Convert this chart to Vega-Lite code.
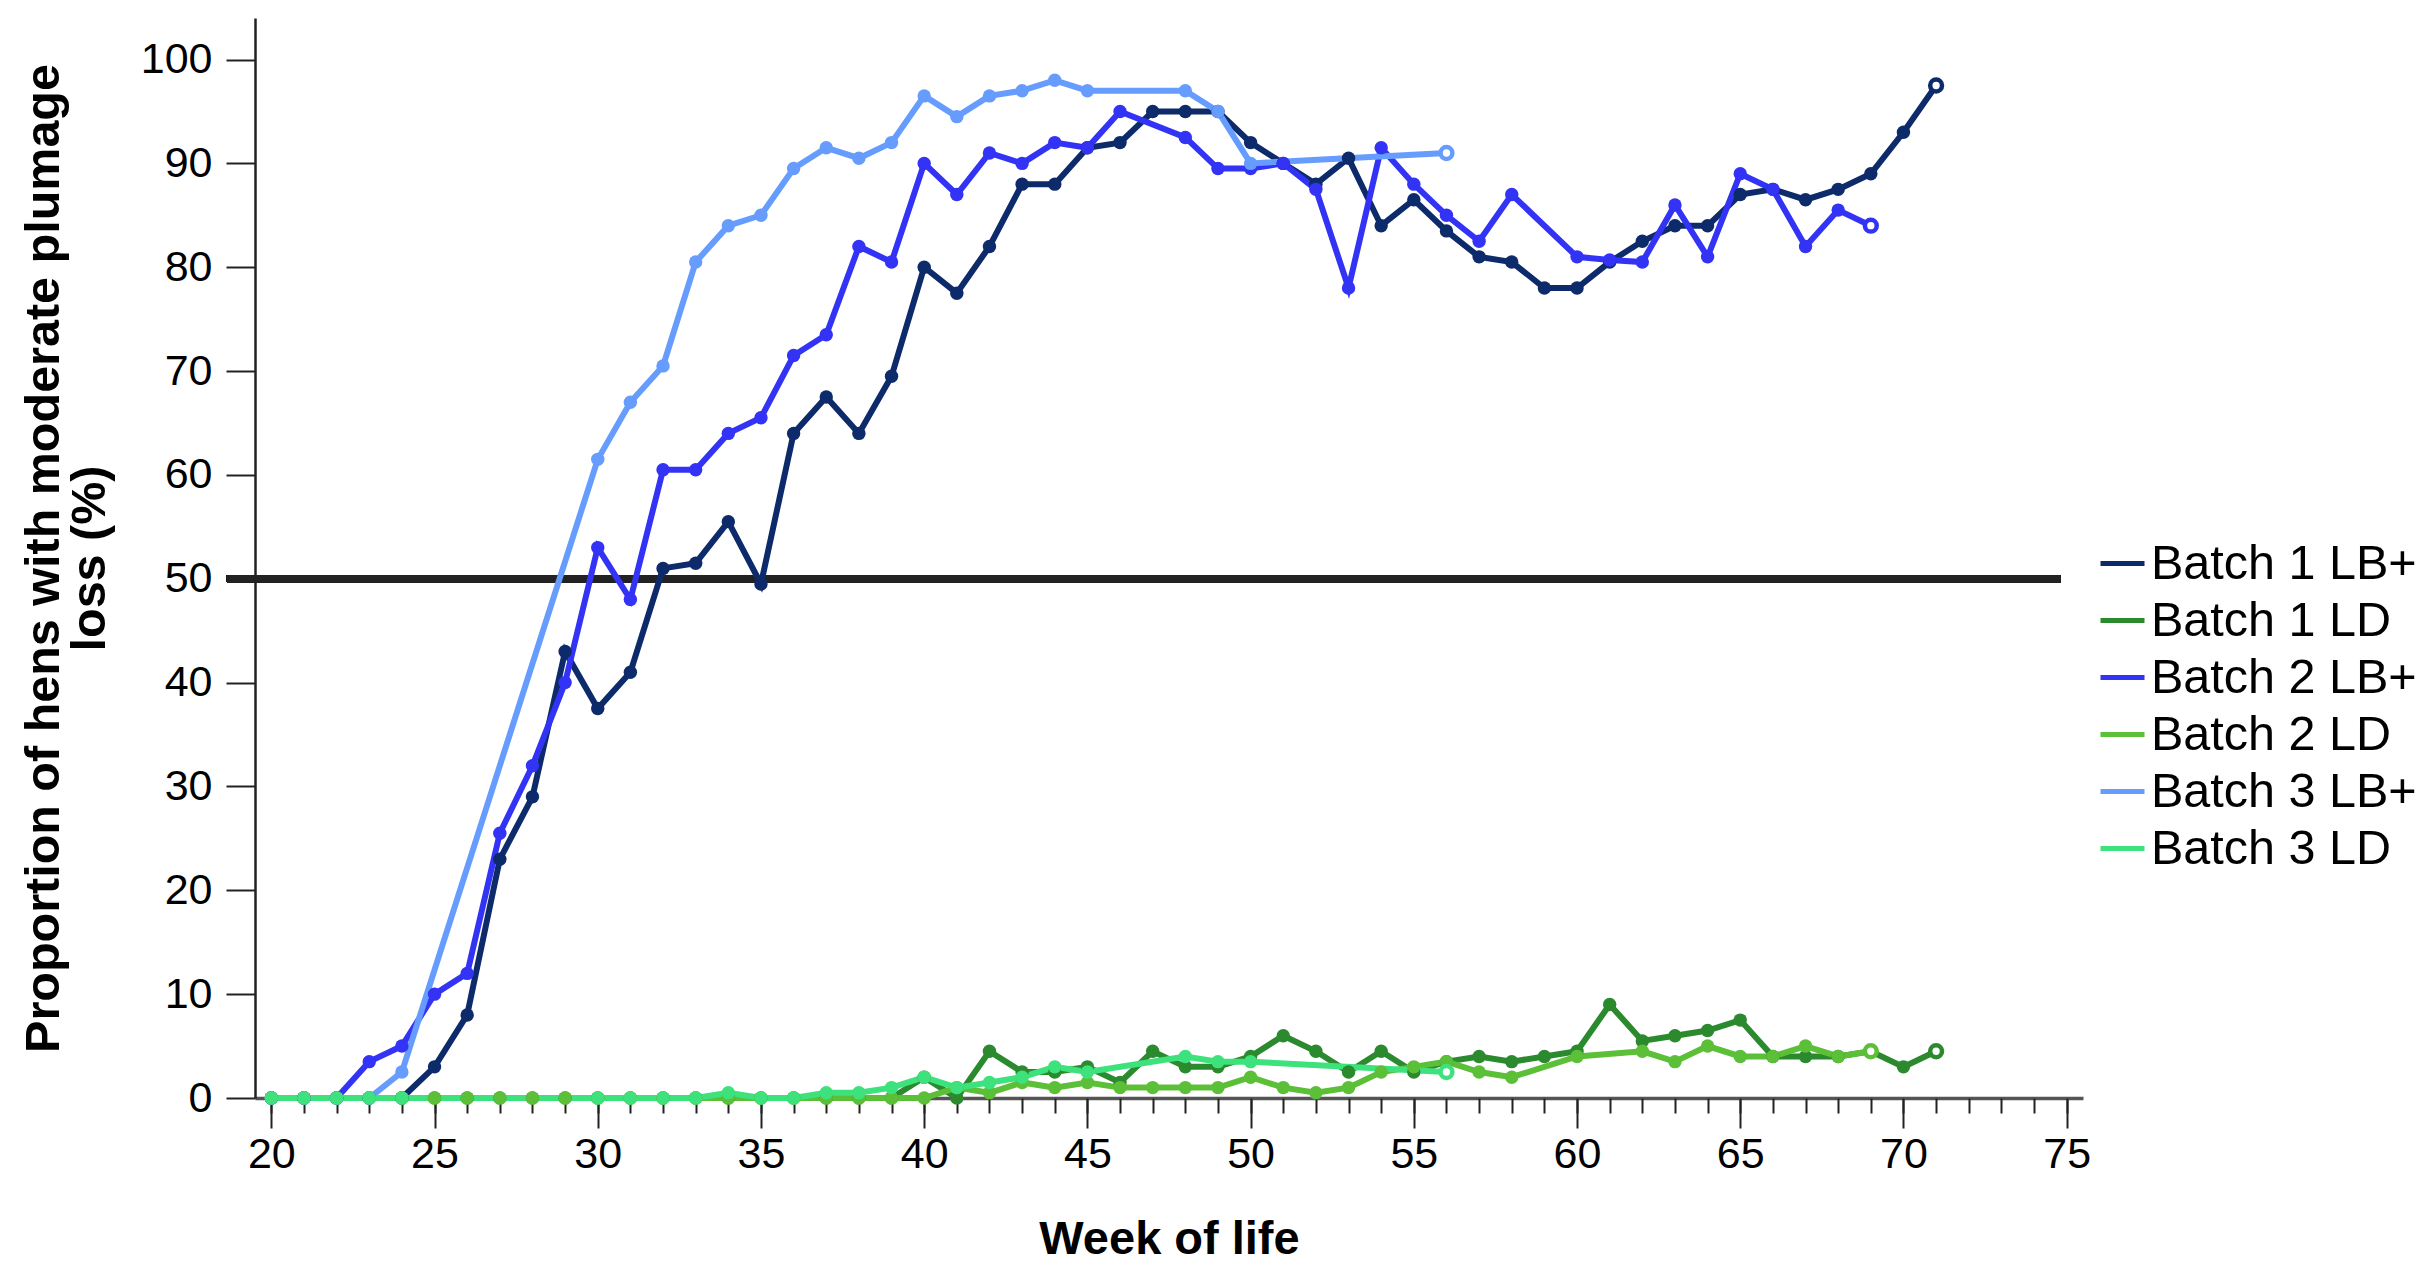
{
  "$schema": "https://vega.github.io/schema/vega-lite/v6.json",
  "autosize": {"type": "none"},
  "width": 1828,
  "height": 1080,
  "padding": {"left": 255, "top": 18, "right": 347, "bottom": 183},
  "background": "white",
  "config": {
    "view": {"stroke": null},
    "font": "Liberation Sans"
  },
  "data": {"values": [
    {"s":"Batch 1 LB+","w":20,"v":0},{"s":"Batch 1 LB+","w":21,"v":0},{"s":"Batch 1 LB+","w":22,"v":0},{"s":"Batch 1 LB+","w":23,"v":0},{"s":"Batch 1 LB+","w":24,"v":0},{"s":"Batch 1 LB+","w":25,"v":3},{"s":"Batch 1 LB+","w":26,"v":8},{"s":"Batch 1 LB+","w":27,"v":23},{"s":"Batch 1 LB+","w":28,"v":29},{"s":"Batch 1 LB+","w":29,"v":43},{"s":"Batch 1 LB+","w":30,"v":37.5},{"s":"Batch 1 LB+","w":31,"v":41},{"s":"Batch 1 LB+","w":32,"v":51},{"s":"Batch 1 LB+","w":33,"v":51.5},{"s":"Batch 1 LB+","w":34,"v":55.5},{"s":"Batch 1 LB+","w":35,"v":49.5},{"s":"Batch 1 LB+","w":36,"v":64},{"s":"Batch 1 LB+","w":37,"v":67.5},{"s":"Batch 1 LB+","w":38,"v":64},{"s":"Batch 1 LB+","w":39,"v":69.5},{"s":"Batch 1 LB+","w":40,"v":80},{"s":"Batch 1 LB+","w":41,"v":77.5},{"s":"Batch 1 LB+","w":42,"v":82},{"s":"Batch 1 LB+","w":43,"v":88},{"s":"Batch 1 LB+","w":44,"v":88},{"s":"Batch 1 LB+","w":45,"v":91.5},{"s":"Batch 1 LB+","w":46,"v":92},{"s":"Batch 1 LB+","w":47,"v":95},{"s":"Batch 1 LB+","w":48,"v":95},{"s":"Batch 1 LB+","w":49,"v":95},{"s":"Batch 1 LB+","w":50,"v":92},{"s":"Batch 1 LB+","w":51,"v":90},{"s":"Batch 1 LB+","w":52,"v":88},{"s":"Batch 1 LB+","w":53,"v":90.5},{"s":"Batch 1 LB+","w":54,"v":84},{"s":"Batch 1 LB+","w":55,"v":86.5},{"s":"Batch 1 LB+","w":56,"v":83.5},{"s":"Batch 1 LB+","w":57,"v":81},{"s":"Batch 1 LB+","w":58,"v":80.5},{"s":"Batch 1 LB+","w":59,"v":78},{"s":"Batch 1 LB+","w":60,"v":78},{"s":"Batch 1 LB+","w":61,"v":80.5},{"s":"Batch 1 LB+","w":62,"v":82.5},{"s":"Batch 1 LB+","w":63,"v":84},{"s":"Batch 1 LB+","w":64,"v":84},{"s":"Batch 1 LB+","w":65,"v":87},{"s":"Batch 1 LB+","w":66,"v":87.5},{"s":"Batch 1 LB+","w":67,"v":86.5},{"s":"Batch 1 LB+","w":68,"v":87.5},{"s":"Batch 1 LB+","w":69,"v":89},{"s":"Batch 1 LB+","w":70,"v":93},{"s":"Batch 1 LB+","w":71,"v":97.5},

    {"s":"Batch 1 LD","w":20,"v":0},{"s":"Batch 1 LD","w":21,"v":0},{"s":"Batch 1 LD","w":22,"v":0},{"s":"Batch 1 LD","w":23,"v":0},{"s":"Batch 1 LD","w":24,"v":0},{"s":"Batch 1 LD","w":25,"v":0},{"s":"Batch 1 LD","w":26,"v":0},{"s":"Batch 1 LD","w":27,"v":0},{"s":"Batch 1 LD","w":28,"v":0},{"s":"Batch 1 LD","w":29,"v":0},{"s":"Batch 1 LD","w":30,"v":0},{"s":"Batch 1 LD","w":31,"v":0},{"s":"Batch 1 LD","w":32,"v":0},{"s":"Batch 1 LD","w":33,"v":0},{"s":"Batch 1 LD","w":34,"v":0},{"s":"Batch 1 LD","w":35,"v":0},{"s":"Batch 1 LD","w":36,"v":0},{"s":"Batch 1 LD","w":37,"v":0},{"s":"Batch 1 LD","w":38,"v":0},{"s":"Batch 1 LD","w":39,"v":0},{"s":"Batch 1 LD","w":40,"v":2},{"s":"Batch 1 LD","w":41,"v":0},{"s":"Batch 1 LD","w":42,"v":4.5},{"s":"Batch 1 LD","w":43,"v":2.5},{"s":"Batch 1 LD","w":44,"v":2.5},{"s":"Batch 1 LD","w":45,"v":3},{"s":"Batch 1 LD","w":46,"v":1.5},{"s":"Batch 1 LD","w":47,"v":4.5},{"s":"Batch 1 LD","w":48,"v":3},{"s":"Batch 1 LD","w":49,"v":3},{"s":"Batch 1 LD","w":50,"v":4},{"s":"Batch 1 LD","w":51,"v":6},{"s":"Batch 1 LD","w":52,"v":4.5},{"s":"Batch 1 LD","w":53,"v":2.5},{"s":"Batch 1 LD","w":54,"v":4.5},{"s":"Batch 1 LD","w":55,"v":2.5},{"s":"Batch 1 LD","w":56,"v":3.5},{"s":"Batch 1 LD","w":57,"v":4},{"s":"Batch 1 LD","w":58,"v":3.5},{"s":"Batch 1 LD","w":59,"v":4},{"s":"Batch 1 LD","w":60,"v":4.5},{"s":"Batch 1 LD","w":61,"v":9},{"s":"Batch 1 LD","w":62,"v":5.5},{"s":"Batch 1 LD","w":63,"v":6},{"s":"Batch 1 LD","w":64,"v":6.5},{"s":"Batch 1 LD","w":65,"v":7.5},{"s":"Batch 1 LD","w":66,"v":4},{"s":"Batch 1 LD","w":67,"v":4},{"s":"Batch 1 LD","w":68,"v":4},{"s":"Batch 1 LD","w":69,"v":4.5},{"s":"Batch 1 LD","w":70,"v":3},{"s":"Batch 1 LD","w":71,"v":4.5},

    {"s":"Batch 2 LB+","w":20,"v":0},{"s":"Batch 2 LB+","w":21,"v":0},{"s":"Batch 2 LB+","w":22,"v":0},{"s":"Batch 2 LB+","w":23,"v":3.5},{"s":"Batch 2 LB+","w":24,"v":5},{"s":"Batch 2 LB+","w":25,"v":10},{"s":"Batch 2 LB+","w":26,"v":12},{"s":"Batch 2 LB+","w":27,"v":25.5},{"s":"Batch 2 LB+","w":28,"v":32},{"s":"Batch 2 LB+","w":29,"v":40},{"s":"Batch 2 LB+","w":30,"v":53},{"s":"Batch 2 LB+","w":31,"v":48},{"s":"Batch 2 LB+","w":32,"v":60.5},{"s":"Batch 2 LB+","w":33,"v":60.5},{"s":"Batch 2 LB+","w":34,"v":64},{"s":"Batch 2 LB+","w":35,"v":65.5},{"s":"Batch 2 LB+","w":36,"v":71.5},{"s":"Batch 2 LB+","w":37,"v":73.5},{"s":"Batch 2 LB+","w":38,"v":82},{"s":"Batch 2 LB+","w":39,"v":80.5},{"s":"Batch 2 LB+","w":40,"v":90},{"s":"Batch 2 LB+","w":41,"v":87},{"s":"Batch 2 LB+","w":42,"v":91},{"s":"Batch 2 LB+","w":43,"v":90},{"s":"Batch 2 LB+","w":44,"v":92},{"s":"Batch 2 LB+","w":45,"v":91.5},{"s":"Batch 2 LB+","w":46,"v":95},{"s":"Batch 2 LB+","w":48,"v":92.5},{"s":"Batch 2 LB+","w":49,"v":89.5},{"s":"Batch 2 LB+","w":50,"v":89.5},{"s":"Batch 2 LB+","w":51,"v":90},{"s":"Batch 2 LB+","w":52,"v":87.5},{"s":"Batch 2 LB+","w":53,"v":78},{"s":"Batch 2 LB+","w":54,"v":91.5},{"s":"Batch 2 LB+","w":55,"v":88},{"s":"Batch 2 LB+","w":56,"v":85},{"s":"Batch 2 LB+","w":57,"v":82.5},{"s":"Batch 2 LB+","w":58,"v":87},{"s":"Batch 2 LB+","w":60,"v":81},{"s":"Batch 2 LB+","w":61,"v":80.7},{"s":"Batch 2 LB+","w":62,"v":80.5},{"s":"Batch 2 LB+","w":63,"v":86},{"s":"Batch 2 LB+","w":64,"v":81},{"s":"Batch 2 LB+","w":65,"v":89},{"s":"Batch 2 LB+","w":66,"v":87.5},{"s":"Batch 2 LB+","w":67,"v":82},{"s":"Batch 2 LB+","w":68,"v":85.5},{"s":"Batch 2 LB+","w":69,"v":84},

    {"s":"Batch 2 LD","w":20,"v":0},{"s":"Batch 2 LD","w":21,"v":0},{"s":"Batch 2 LD","w":22,"v":0},{"s":"Batch 2 LD","w":23,"v":0},{"s":"Batch 2 LD","w":24,"v":0},{"s":"Batch 2 LD","w":25,"v":0},{"s":"Batch 2 LD","w":26,"v":0},{"s":"Batch 2 LD","w":27,"v":0},{"s":"Batch 2 LD","w":28,"v":0},{"s":"Batch 2 LD","w":29,"v":0},{"s":"Batch 2 LD","w":30,"v":0},{"s":"Batch 2 LD","w":31,"v":0},{"s":"Batch 2 LD","w":32,"v":0},{"s":"Batch 2 LD","w":33,"v":0},{"s":"Batch 2 LD","w":34,"v":0},{"s":"Batch 2 LD","w":35,"v":0},{"s":"Batch 2 LD","w":36,"v":0},{"s":"Batch 2 LD","w":37,"v":0},{"s":"Batch 2 LD","w":38,"v":0},{"s":"Batch 2 LD","w":39,"v":0},{"s":"Batch 2 LD","w":40,"v":0},{"s":"Batch 2 LD","w":41,"v":1},{"s":"Batch 2 LD","w":42,"v":0.5},{"s":"Batch 2 LD","w":43,"v":1.5},{"s":"Batch 2 LD","w":44,"v":1},{"s":"Batch 2 LD","w":45,"v":1.5},{"s":"Batch 2 LD","w":46,"v":1},{"s":"Batch 2 LD","w":47,"v":1},{"s":"Batch 2 LD","w":48,"v":1},{"s":"Batch 2 LD","w":49,"v":1},{"s":"Batch 2 LD","w":50,"v":2},{"s":"Batch 2 LD","w":51,"v":1},{"s":"Batch 2 LD","w":52,"v":0.5},{"s":"Batch 2 LD","w":53,"v":1},{"s":"Batch 2 LD","w":54,"v":2.5},{"s":"Batch 2 LD","w":55,"v":3},{"s":"Batch 2 LD","w":56,"v":3.5},{"s":"Batch 2 LD","w":57,"v":2.5},{"s":"Batch 2 LD","w":58,"v":2},{"s":"Batch 2 LD","w":60,"v":4},{"s":"Batch 2 LD","w":62,"v":4.5},{"s":"Batch 2 LD","w":63,"v":3.5},{"s":"Batch 2 LD","w":64,"v":5},{"s":"Batch 2 LD","w":65,"v":4},{"s":"Batch 2 LD","w":66,"v":4},{"s":"Batch 2 LD","w":67,"v":5},{"s":"Batch 2 LD","w":68,"v":4},{"s":"Batch 2 LD","w":69,"v":4.5},

    {"s":"Batch 3 LB+","w":20,"v":0},{"s":"Batch 3 LB+","w":21,"v":0},{"s":"Batch 3 LB+","w":22,"v":0},{"s":"Batch 3 LB+","w":23,"v":0},{"s":"Batch 3 LB+","w":24,"v":2.5},{"s":"Batch 3 LB+","w":30,"v":61.5},{"s":"Batch 3 LB+","w":31,"v":67},{"s":"Batch 3 LB+","w":32,"v":70.5},{"s":"Batch 3 LB+","w":33,"v":80.5},{"s":"Batch 3 LB+","w":34,"v":84},{"s":"Batch 3 LB+","w":35,"v":85},{"s":"Batch 3 LB+","w":36,"v":89.5},{"s":"Batch 3 LB+","w":37,"v":91.5},{"s":"Batch 3 LB+","w":38,"v":90.5},{"s":"Batch 3 LB+","w":39,"v":92},{"s":"Batch 3 LB+","w":40,"v":96.5},{"s":"Batch 3 LB+","w":41,"v":94.5},{"s":"Batch 3 LB+","w":42,"v":96.5},{"s":"Batch 3 LB+","w":43,"v":97},{"s":"Batch 3 LB+","w":44,"v":98},{"s":"Batch 3 LB+","w":45,"v":97},{"s":"Batch 3 LB+","w":48,"v":97},{"s":"Batch 3 LB+","w":49,"v":95},{"s":"Batch 3 LB+","w":50,"v":90},{"s":"Batch 3 LB+","w":56,"v":91},

    {"s":"Batch 3 LD","w":20,"v":0},{"s":"Batch 3 LD","w":21,"v":0},{"s":"Batch 3 LD","w":22,"v":0},{"s":"Batch 3 LD","w":23,"v":0},{"s":"Batch 3 LD","w":24,"v":0},{"s":"Batch 3 LD","w":30,"v":0},{"s":"Batch 3 LD","w":31,"v":0},{"s":"Batch 3 LD","w":32,"v":0},{"s":"Batch 3 LD","w":33,"v":0},{"s":"Batch 3 LD","w":34,"v":0.5},{"s":"Batch 3 LD","w":35,"v":0},{"s":"Batch 3 LD","w":36,"v":0},{"s":"Batch 3 LD","w":37,"v":0.5},{"s":"Batch 3 LD","w":38,"v":0.5},{"s":"Batch 3 LD","w":39,"v":1},{"s":"Batch 3 LD","w":40,"v":2},{"s":"Batch 3 LD","w":41,"v":1},{"s":"Batch 3 LD","w":42,"v":1.5},{"s":"Batch 3 LD","w":43,"v":2},{"s":"Batch 3 LD","w":44,"v":3},{"s":"Batch 3 LD","w":45,"v":2.5},{"s":"Batch 3 LD","w":48,"v":4},{"s":"Batch 3 LD","w":49,"v":3.5},{"s":"Batch 3 LD","w":50,"v":3.5},{"s":"Batch 3 LD","w":56,"v":2.5}
  ]},
  "resolve": {"axis": {"x": "independent"}},
  "layer": [
    {
      "mark": {"type": "rule", "color": "#222222", "strokeWidth": 7},
      "encoding": {
        "x": {"datum": 18.64, "type": "quantitative", "axis": null},
        "x2": {"datum": 74.8},
        "y": {"datum": 50, "type": "quantitative"}
      }
    },
    {
      "mark": {"type": "line", "strokeWidth": 6, "point": {"filled": true, "size": 180, "opacity": 1}},
      "encoding": {
        "x": {
          "field": "w", "type": "quantitative",
          "scale": {"domain": [19.5, 75.5], "nice": false, "zero": false},
          "axis": {
            "orient": "bottom",
            "title": "Week of life",
            "titleFontSize": 47, "titleFontWeight": "bold", "titleColor": "black", "titlePadding": 40,
            "values": [20,25,30,35,40,45,50,55,60,65,70,75],
            "labelFontSize": 43, "labelColor": "black", "labelPadding": 5, "labelFlush": false, "labelOverlap": false,
            "tickSize": 30, "tickWidth": 2, "tickColor": "#222222",
            "domainColor": "#555555", "domainWidth": 3.5,
            "grid": false
          }
        },
        "y": {
          "field": "v", "type": "quantitative",
          "scale": {"domain": [0, 104], "nice": false},
          "axis": {
            "title": ["Proportion of hens with moderate plumage", "loss (%)"],
            "titleFontSize": 48.5, "titleFontWeight": "bold", "titleColor": "black", "titlePadding": 26, "titleLineHeight": 46,
            "values": [0,10,20,30,40,50,60,70,80,90,100],
            "labelFontSize": 43, "labelColor": "black", "labelPadding": 14,
            "tickSize": 29, "tickWidth": 2, "tickColor": "#222222",
            "domainColor": "#222222", "domainWidth": 2.5,
            "grid": false
          }
        },
        "color": {
          "field": "s", "type": "nominal",
          "scale": {
            "domain": ["Batch 1 LB+", "Batch 1 LD", "Batch 2 LB+", "Batch 2 LD", "Batch 3 LB+", "Batch 3 LD"],
            "range": ["#0d2b6b", "#2b8a2e", "#3333f5", "#5cbf38", "#679cff", "#3de27d"]
          },
          "legend": {
            "title": null,
            "orient": "none",
            "legendX": 1843,
            "legendY": 521,
            "symbolType": "stroke",
            "symbolSize": 1936,
            "symbolStrokeWidth": 5,
            "labelFontSize": 48.5,
            "labelColor": "black",
            "labelOffset": 4,
            "labelLimit": 500,
            "rowPadding": 8
          }
        }
      }
    },
    {
      "transform": [
        {"joinaggregate": [{"op": "max", "field": "w", "as": "lastw"}], "groupby": ["s"]},
        {"filter": "datum.w === datum.lastw"}
      ],
      "mark": {"type": "point", "shape": "circle", "filled": false, "fill": "white", "fillOpacity": 1, "strokeWidth": 4.5, "size": 140, "opacity": 1},
      "encoding": {
        "x": {
          "field": "w", "type": "quantitative",
          "axis": {
            "orient": "bottom",
            "title": null,
            "values": [20,21,22,23,24,25,26,27,28,29,30,31,32,33,34,35,36,37,38,39,40,41,42,43,44,45,46,47,48,49,50,51,52,53,54,55,56,57,58,59,60,61,62,63,64,65,66,67,68,69,70,71,72,73,74,75],
            "labels": false, "domain": false, "grid": false,
            "tickSize": 15, "tickWidth": 2, "tickColor": "#222222"
          }
        },
        "y": {"field": "v", "type": "quantitative"},
        "color": {"field": "s", "type": "nominal", "legend": null}
      }
    }
  ]
}
